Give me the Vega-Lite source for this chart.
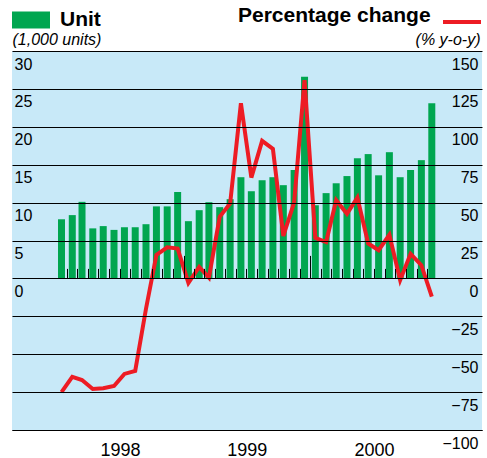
{
  "$schema": "https://vega.github.io/schema/vega-lite/v6.json",
  "width": 470,
  "height": 379,
  "autosize": {"type": "none"},
  "padding": {"left": 12, "top": 51, "right": 5, "bottom": 28},
  "background": "white",
  "config": {
    "font": "Liberation Sans",
    "view": {"fill": "#c8e9f8", "stroke": null},
    "axis": {"labelFont": "Liberation Sans", "titleFont": "Liberation Sans", "labelColor": "#000", "titleColor": "#000"},
    "legend": {"labelFont": "Liberation Sans", "titleFont": "Liberation Sans", "labelColor": "#000", "titleColor": "#000"}
  },
  "data": {
    "values": [
      {"date": "1998-01-15", "units": 7.8, "pct": -75},
      {"date": "1998-02-15", "units": 8.35, "pct": -65},
      {"date": "1998-03-15", "units": 10.1, "pct": -67},
      {"date": "1998-04-15", "units": 6.6, "pct": -73},
      {"date": "1998-05-15", "units": 6.9, "pct": -72.5},
      {"date": "1998-06-15", "units": 6.4, "pct": -71},
      {"date": "1998-07-15", "units": 6.75, "pct": -63},
      {"date": "1998-08-15", "units": 6.75, "pct": -61},
      {"date": "1998-09-15", "units": 7.15, "pct": -20},
      {"date": "1998-10-15", "units": 9.5, "pct": 15.5},
      {"date": "1998-11-15", "units": 9.5, "pct": 20.5},
      {"date": "1998-12-15", "units": 11.4, "pct": 19.7},
      {"date": "1999-01-15", "units": 7.55, "pct": -3},
      {"date": "1999-02-15", "units": 9.0, "pct": 7.6},
      {"date": "1999-03-15", "units": 10.05, "pct": 0.5},
      {"date": "1999-04-15", "units": 9.4, "pct": 40.6},
      {"date": "1999-05-15", "units": 10.45, "pct": 49.4},
      {"date": "1999-06-15", "units": 13.35, "pct": 115.5},
      {"date": "1999-07-15", "units": 11.5, "pct": 66.5},
      {"date": "1999-08-15", "units": 12.95, "pct": 90.7},
      {"date": "1999-09-15", "units": 13.35, "pct": 85.5},
      {"date": "1999-10-15", "units": 12.3, "pct": 28},
      {"date": "1999-11-15", "units": 14.3, "pct": 50},
      {"date": "1999-12-15", "units": 26.6, "pct": 130.8},
      {"date": "2000-01-15", "units": 9.65, "pct": 26.8},
      {"date": "2000-02-15", "units": 11.25, "pct": 24},
      {"date": "2000-03-15", "units": 12.55, "pct": 51.6},
      {"date": "2000-04-15", "units": 13.5, "pct": 42.6},
      {"date": "2000-05-15", "units": 15.85, "pct": 53.3},
      {"date": "2000-06-15", "units": 16.4, "pct": 23},
      {"date": "2000-07-15", "units": 13.6, "pct": 18.6},
      {"date": "2000-08-15", "units": 16.65, "pct": 28.8},
      {"date": "2000-09-15", "units": 13.35, "pct": -1.2},
      {"date": "2000-10-15", "units": 14.3, "pct": 16.2},
      {"date": "2000-11-15", "units": 15.6, "pct": 8.7},
      {"date": "2000-12-15", "units": 23.1, "pct": -12}
    ]
  },
  "layer": [
    {
      "mark": {"type": "bar", "size": 7},
      "encoding": {
        "x": {
          "field": "date",
          "type": "temporal",
          "scale": {
            "type": "utc",
            "domain": [
              {"year": 1997, "month": 9, "date": 9, "utc": true},
              {"year": 2001, "month": 4, "date": 24, "utc": true}
            ]
          },
          "axis": {
            "orient": "bottom",
            "values": [
              {"year": 1998, "month": 7, "date": 2, "utc": true},
              {"year": 1999, "month": 7, "date": 2, "utc": true},
              {"year": 2000, "month": 7, "date": 2, "utc": true}
            ],
            "format": "%Y",
            "title": null,
            "ticks": false,
            "tickSize": 0,
            "domain": true,
            "domainColor": "#000",
            "domainWidth": 1,
            "grid": false,
            "labelFontSize": 18,
            "labelBaseline": "alphabetic",
            "labelPadding": 25,
            "labelFlush": false,
            "labelOverlap": false,
            "zindex": 1
          }
        },
        "y": {
          "field": "units",
          "type": "quantitative",
          "scale": {"domain": [-20, 30], "nice": false, "zero": false},
          "axis": {
            "orient": "left",
            "values": [0, 5, 10, 15, 20, 25, 30],
            "grid": false,
            "domain": false,
            "ticks": false,
            "tickSize": 0,
            "labelAlign": "left",
            "labelPadding": -2,
            "labelBaseline": "alphabetic",
            "labelOffset": 18,
            "labelFontSize": 16,
            "labelBound": false,
            "labelOverlap": false,
            "title": "(1,000 units)",
            "titleAngle": 0,
            "titleAlign": "left",
            "titleBaseline": "alphabetic",
            "titleX": 0,
            "titleY": -7,
            "titleFontSize": 16,
            "titleFontStyle": "italic",
            "titleFontWeight": "normal",
            "zindex": 1
          }
        },
        "fill": {
          "datum": "Unit",
          "scale": {"range": ["#00a650"]},
          "legend": {
            "orient": "none",
            "legendX": 0,
            "legendY": -50,
            "title": null,
            "symbolType": "M-1,-0.447L1,-0.447L1,0.447L-1,0.447Z",
            "symbolSize": 1444,
            "symbolStrokeWidth": 0,
            "labelFontSize": 21,
            "labelFontWeight": "bold",
            "labelOffset": 10
          }
        }
      }
    },
    {
      "mark": {"type": "line", "strokeWidth": 4, "strokeJoin": "miter"},
      "encoding": {
        "x": {
          "field": "date",
          "type": "temporal",
          "axis": {
            "orient": "top",
            "offset": -227.4,
            "values": [
              {"year": 1998, "month": 2, "date": 1, "utc": true},
              {"year": 1998, "month": 3, "date": 1, "utc": true},
              {"year": 1998, "month": 4, "date": 1, "utc": true},
              {"year": 1998, "month": 5, "date": 1, "utc": true},
              {"year": 1998, "month": 6, "date": 1, "utc": true},
              {"year": 1998, "month": 7, "date": 1, "utc": true},
              {"year": 1998, "month": 8, "date": 1, "utc": true},
              {"year": 1998, "month": 9, "date": 1, "utc": true},
              {"year": 1998, "month": 10, "date": 1, "utc": true},
              {"year": 1998, "month": 11, "date": 1, "utc": true},
              {"year": 1998, "month": 12, "date": 1, "utc": true},
              {"year": 1999, "month": 1, "date": 1, "utc": true},
              {"year": 1999, "month": 2, "date": 1, "utc": true},
              {"year": 1999, "month": 3, "date": 1, "utc": true},
              {"year": 1999, "month": 4, "date": 1, "utc": true},
              {"year": 1999, "month": 5, "date": 1, "utc": true},
              {"year": 1999, "month": 6, "date": 1, "utc": true},
              {"year": 1999, "month": 7, "date": 1, "utc": true},
              {"year": 1999, "month": 8, "date": 1, "utc": true},
              {"year": 1999, "month": 9, "date": 1, "utc": true},
              {"year": 1999, "month": 10, "date": 1, "utc": true},
              {"year": 1999, "month": 11, "date": 1, "utc": true},
              {"year": 1999, "month": 12, "date": 1, "utc": true},
              {"year": 2000, "month": 1, "date": 1, "utc": true},
              {"year": 2000, "month": 2, "date": 1, "utc": true},
              {"year": 2000, "month": 3, "date": 1, "utc": true},
              {"year": 2000, "month": 4, "date": 1, "utc": true},
              {"year": 2000, "month": 5, "date": 1, "utc": true},
              {"year": 2000, "month": 6, "date": 1, "utc": true},
              {"year": 2000, "month": 7, "date": 1, "utc": true},
              {"year": 2000, "month": 8, "date": 1, "utc": true},
              {"year": 2000, "month": 9, "date": 1, "utc": true},
              {"year": 2000, "month": 10, "date": 1, "utc": true},
              {"year": 2000, "month": 11, "date": 1, "utc": true},
              {"year": 2000, "month": 12, "date": 1, "utc": true}
            ],
            "title": null,
            "labels": false,
            "domain": false,
            "grid": false,
            "ticks": true,
            "tickColor": "#000",
            "tickWidth": 1,
            "tickSize": {"condition": {"test": "utcmonth(datum.value) == 0", "value": 23}, "value": 10},
            "zindex": 1
          }
        },
        "y": {
          "field": "pct",
          "type": "quantitative",
          "scale": {"domain": [-100, 150], "nice": false, "zero": false},
          "axis": {
            "orient": "right",
            "values": [-100, -75, -50, -25, 0, 25, 50, 75, 100, 125, 150],
            "grid": true,
            "gridColor": "#000",
            "gridWidth": 1,
            "gridOpacity": 1,
            "domain": false,
            "ticks": false,
            "tickSize": 0,
            "labelAlign": "right",
            "labelPadding": -4,
            "labelBaseline": "alphabetic",
            "labelOffset": 18,
            "labelFontSize": 16,
            "labelBound": false,
            "labelOverlap": false,
            "title": "(% y-o-y)",
            "titleAngle": 0,
            "titleAlign": "right",
            "titleBaseline": "alphabetic",
            "titleX": -2,
            "titleY": -7,
            "titleFontSize": 16,
            "titleFontStyle": "italic",
            "titleFontWeight": "normal",
            "zindex": 1
          }
        },
        "stroke": {
          "datum": "Percentage change",
          "scale": {"range": ["#ed1c24"]},
          "legend": {
            "orient": "none",
            "legendX": 226,
            "legendY": -50,
            "title": "Percentage change",
            "titleOrient": "left",
            "titleAnchor": "middle",
            "titleBaseline": "middle",
            "titleLimit": 500,
            "titleFontSize": 21,
            "titleFontWeight": "bold",
            "titlePadding": 10,
            "symbolType": "stroke",
            "symbolSize": 1444,
            "symbolStrokeWidth": 4,
            "labelExpr": "''"
          }
        }
      }
    }
  ],
  "resolve": {"scale": {"y": "independent"}, "axis": {"x": "independent"}}
}
